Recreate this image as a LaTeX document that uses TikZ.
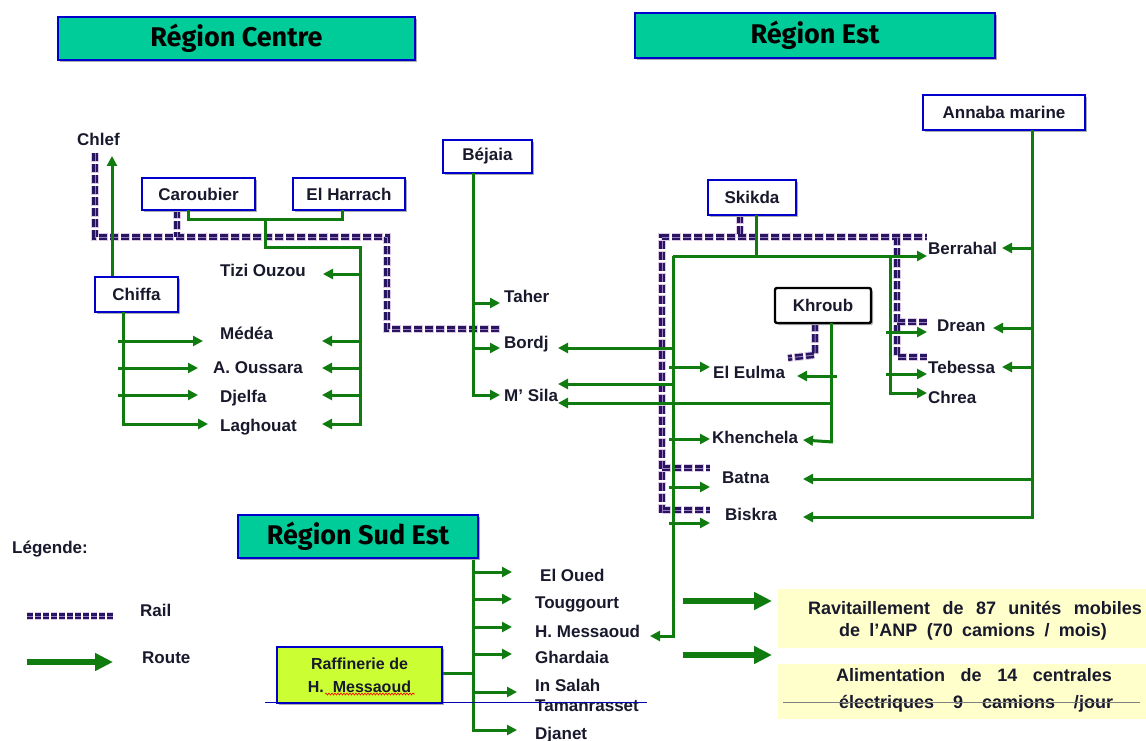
\documentclass[tikz,border=0pt]{standalone}
\usepackage{fontspec}
\setmainfont{Liberation Sans}
\newfontfamily\titlefont{Fira Sans}
\usetikzlibrary{arrows.meta,shadows,decorations.pathmorphing}
\definecolor{teal1}{RGB}{0,204,153}
\definecolor{rgreen}{RGB}{16,124,16}
\definecolor{rnavy}{RGB}{38,22,98}
\definecolor{rlav}{RGB}{160,120,190}
\definecolor{rhalo}{RGB}{222,200,228}
\definecolor{bblue}{RGB}{0,0,205}
\definecolor{ygreen}{RGB}{204,255,51}
\definecolor{lyellow}{RGB}{255,255,204}
\definecolor{txt}{RGB}{25,25,45}
\begin{document}
\begin{tikzpicture}[x=1pt,y=-1pt,
  lbl/.style={anchor=base west, inner sep=0pt, font=\fontsize{17}{19}\selectfont\bfseries, text=txt},
  shad/.style={drop shadow={shadow xshift=2pt,shadow yshift=-2pt,fill=gray!65,opacity=1}},
  titlebox/.style={draw=bblue, line width=1.5pt, fill=teal1, shad, inner sep=0pt,
     font=\titlefont\fontsize{27}{30}\selectfont\bfseries},
  citybox/.style={draw=bblue, line width=2.4pt, fill=white, shad, inner sep=0pt,
     font=\fontsize{17}{19}\selectfont\bfseries, text=txt},
  blackbox/.style={draw=black, line width=2.4pt, fill=white, shad, rounded corners=2pt, inner sep=0pt,
     font=\fontsize{17}{19}\selectfont\bfseries, text=txt},
  route/.style={draw=rgreen, line width=3pt},
  tip/.tip={Triangle[length=10pt,width=10pt]},
  bigarrow/.style={draw=rgreen, line width=6.5pt, -{Triangle[length=18pt,width=17pt]}},
  railhalo/.style={draw=rhalo, line width=8pt, dash pattern=on 9pt off 2pt},
  railbody/.style={draw=rnavy, line width=6pt, dash pattern=on 8pt off 3pt},
  railcore/.style={draw=rlav, line width=1pt, dash pattern=on 8pt off 3pt},
  ybox/.style={fill=lyellow, inner sep=0pt},
  ytext/.style={inner sep=0pt, font=\fontsize{18}{20}\selectfont\bfseries, text=txt}
]
\useasboundingbox (0,0) rectangle (1146,741);
\fill[white] (0,0) rectangle (1146,741);

% ---------- titles ----------
\node[titlebox, minimum width=357pt, minimum height=43pt] (tCentre) at (236.5,38.5) {Région Centre};
\node[titlebox, minimum width=360pt, minimum height=45pt] (tEst) at (815,35.5) {Région Est};
\node[titlebox, minimum width=240pt, minimum height=43pt] (tSud) at (358,536.5) {Région Sud Est};

% ---------- rails ----------
\foreach \st in {railhalo,railbody,railcore}{
  \draw[\st] (95,153) -- (95,237) -- (387,237) -- (387,329) -- (500,329);
  \draw[\st] (177,210) -- (177,237);
  \draw[\st] (662,513) -- (662,237) -- (927,237);
  \draw[\st] (740,215) -- (740,237);
  \draw[\st] (897,237) -- (897,357) -- (927,357);
  \draw[\st] (897,322) -- (927,322);
  \draw[\st] (662,468) -- (710,468);
  \draw[\st] (662,510) -- (710,510);
  \draw[\st] (815,323) -- (815,355) -- (788,358);
  \draw[\st, dash pattern=on 6pt off 2pt] (27,616) -- (113,616);
}

% ---------- boxes ----------
\node[citybox, minimum width=113pt, minimum height=32pt] (caroubier) at (198.5,194) {Caroubier};
\node[citybox, minimum width=112pt, minimum height=32pt] (elharrach) at (349,194) {El Harrach};
\node[citybox, minimum width=83pt, minimum height=35pt] (chiffa) at (136.5,294.5) {Chiffa};
\node[citybox, minimum width=89pt, minimum height=33pt] (bejaia) at (487.5,156.5) {Béjaia};
\node[citybox, minimum width=162pt, minimum height=35pt] (annaba) at (1004,112.5) {Annaba marine};
\node[citybox, minimum width=88pt, minimum height=35pt] (skikda) at (752,197.5) {Skikda};
\node[blackbox, minimum width=96pt, minimum height=35pt] (khroub) at (823,305.5) {Khroub};
\node[citybox, fill=ygreen, line width=1.6pt, minimum width=165pt, minimum height=56pt, align=center,
      font=\fontsize{16}{23}\selectfont\bfseries] (raff) at (359.5,675) {Raffinerie de\\H.~~Messaoud};

% ---------- labels ----------
\node[lbl] (chlef) at (77,146) {Chlef};
\node[lbl] (tizi) at (220,276) {Tizi Ouzou};
\node[lbl] (medea) at (220,339) {Médéa};
\node[lbl] (oussara) at (213,373) {A. Oussara};
\node[lbl] (djelfa) at (220,402) {Djelfa};
\node[lbl] (laghouat) at (220,431) {Laghouat};
\node[lbl] (taher) at (504,302) {Taher};
\node[lbl] (bordj) at (504,348) {Bordj};
\node[lbl] (msila) at (504,401) {M’ Sila};
\node[lbl] (berrahal) at (928,254) {Berrahal};
\node[lbl] (drean) at (937,331) {Drean};
\node[lbl] (tebessa) at (928,373) {Tebessa};
\node[lbl] (chrea) at (928,403) {Chrea};
\node[lbl] (eulma) at (713,378) {El Eulma};
\node[lbl] (khenchela) at (712,443) {Khenchela};
\node[lbl] (batna) at (722,483) {Batna};
\node[lbl] (biskra) at (725,520) {Biskra};
\node[lbl] (eloued) at (540,581) {El Oued};
\node[lbl] (touggourt) at (535,608) {Touggourt};
\node[lbl] (hmess) at (535,637) {H. Messaoud};
\node[lbl] (ghardaia) at (535,663) {Ghardaia};
\node[lbl] (insalah) at (535,691) {In Salah};
\node[lbl] (taman) at (535,711) {Tamanrasset};
\node[lbl] (djanet) at (535,739) {Djanet};

% ---------- central routes ----------
\draw[route,-tip] (chiffa.north -| 112,0) -- (112,156);
\draw[route] (188,210) -- (188,219) -- (342,219) -- (342,210);
\draw[route,-tip] (265,219) -- (265,247) -- (360,247) -- (360,424) -- (322,424);
\foreach \yy/\tx in {274/323,341/322,368/322,395/322}
  \draw[route,-tip] (360,\yy) -- (\tx,\yy);
\draw[route,-tip] (123,312) -- (123,424) -- (208,424);
\foreach \yy/\tx in {341/203,368/198,395/198}
  \draw[route,-tip] (118,\yy) -- (\tx,\yy);
% Bejaia
\draw[route,-tip] (473,173) -- (473,395) -- (500,395);
\draw[route,-tip] (473,303) -- (500,303);
\draw[route,-tip] (473,348) -- (500,348);

% ---------- east routes ----------
\draw[route] (756,215) -- (756,256);
\draw[route,-tip] (673,256) -- (927,256);
\draw[route,-tip] (673,256) -- (673,636) -- (650,636);
\foreach \yy in {367,439,487,523}
  \draw[route,-tip] (669,\yy) -- (710,\yy);
\draw[route,-tip] (675,348) -- (558,348);
\draw[route,-tip] (675,384) -- (558,384);
\draw[route] (831,323) -- (831,442);
\draw[route,-tip] (837,376) -- (797,376);
\draw[route,-tip] (833,442) -- (803,440);
\draw[route,-tip] (831,403) -- (558,403);
\draw[route,-tip] (890,256) -- (890,393) -- (927,393);
\draw[route,-tip] (886,332) -- (927,332);
\draw[route,-tip] (886,374) -- (927,374);
\draw[route,-tip] (1032,130) -- (1032,517) -- (803,517);
\draw[route,-tip] (1032,248) -- (1002,248);
\draw[route,-tip] (1032,328) -- (993,328);
\draw[route,-tip] (1032,367) -- (1002,367);
\draw[route,-tip] (1032,479) -- (803,479);

% ---------- sud est routes ----------
\draw[route,-tip] (473,560) -- (473,730) -- (517,730);
\foreach \yy in {572,599,627,654}
  \draw[route,-tip] (473,\yy) -- (512,\yy);
\draw[route,-tip] (475,692) -- (517,692);
\draw[route] (raff.east |- 0,673) -- (473,673);

% ---------- yellow boxes ----------
\node[ybox, minimum width=368pt, minimum height=59pt] (y1) at (962,618.5) {};
\node[ybox, minimum width=368pt, minimum height=55pt] (y2) at (962,691.5) {};
\node[ytext] (y1a) at (975,608) {\makebox[334pt][s]{Ravitaillement de 87 unités mobiles}};
\node[ytext] (y1b) at (973,632) {\makebox[268pt][s]{de l’ANP (70 camions / mois)}};
\node[ytext] (y2a) at (974,675) {\makebox[276pt][s]{Alimentation de 14 centrales}};
\node[ytext] (y2b) at (976,704) {\makebox[274pt][s]{électriques 9 camions /jour}};
\draw[bigarrow] (683,601) -- (772,601);
\draw[bigarrow] (683,655) -- (772,655);

% ---------- stray lines ----------
\draw[blue!70!black, line width=0.9pt] (265,702) -- (647,702);
\draw[gray, line width=0.9pt] (783,702) -- (1140,702);
\draw[red, line width=0.6pt, decorate, decoration={snake, amplitude=1pt, segment length=3pt}] (325,694) -- (415,694);

% ---------- legend ----------
\node[lbl] (legende) at (12,553) {Légende:};
\node[lbl] (railtxt) at (140,616) {Rail};
\draw[bigarrow, line width=6pt] (27,662) -- (113,662);
\node[lbl] (routetxt) at (142,663) {Route};
\end{tikzpicture}
\end{document}
